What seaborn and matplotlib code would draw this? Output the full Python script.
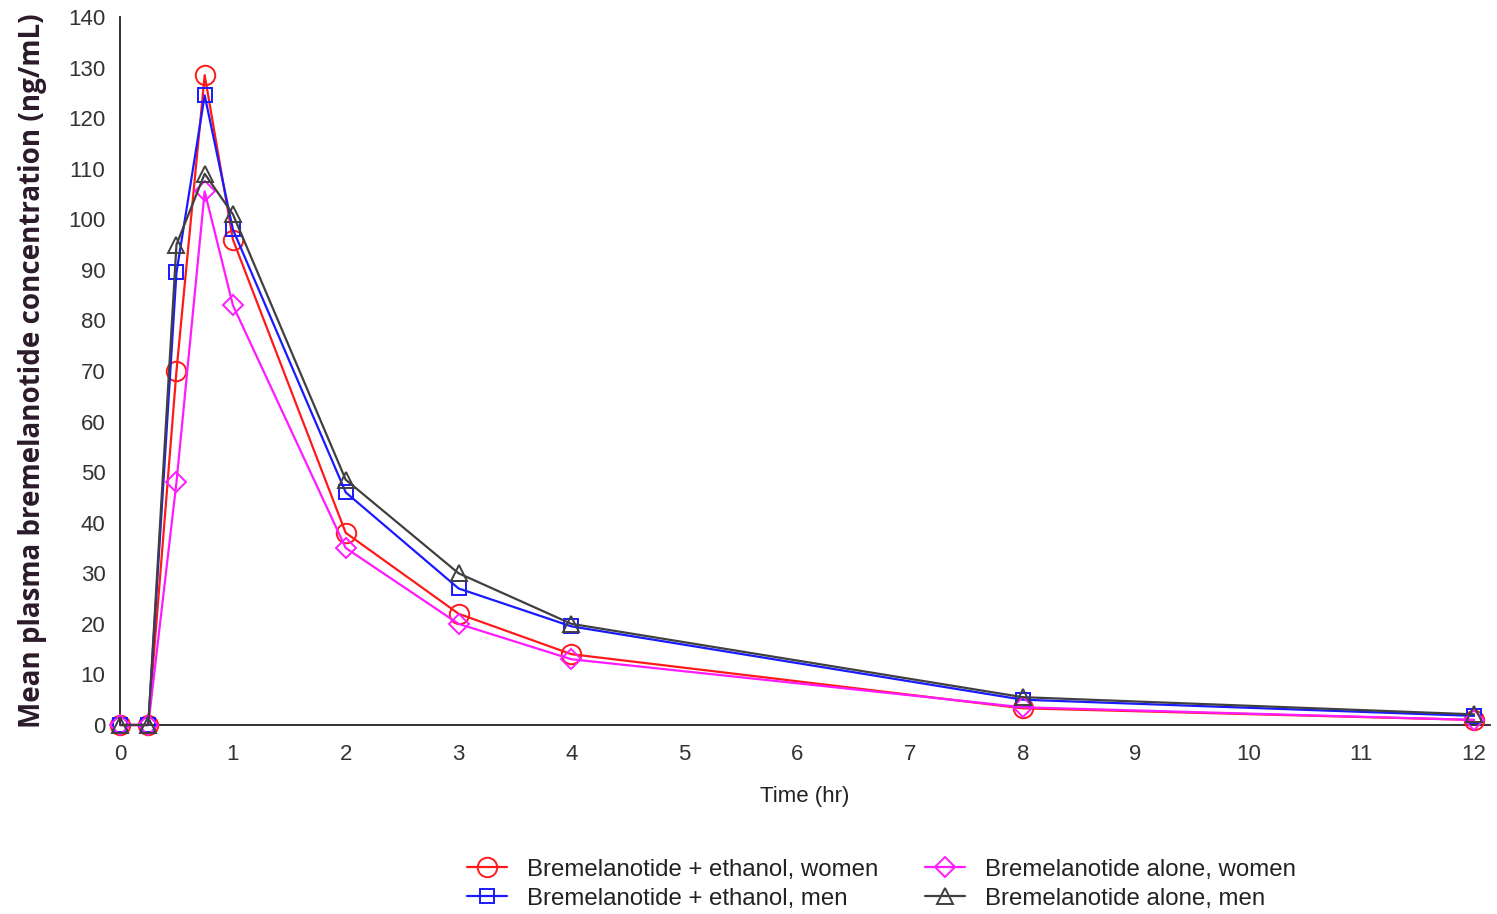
import matplotlib
matplotlib.use("Agg")
import matplotlib.pyplot as plt
import seaborn as sns
import pandas as pd

time_hr = [0, 0.25, 0.5, 0.75, 1, 2, 3, 4, 8, 12]
eth_women = [0, 0, 70, 128.5, 96, 38, 22, 14, 3.3, 1.0]
eth_men = [0, 0, 89.5, 124.5, 98, 46, 27, 19.5, 5.0, 1.8]
alone_women = [0, 0, 48, 105.5, 83, 35, 20, 13, 3.5, 1.0]
alone_men = [0, 0, 95, 109, 101, 48.5, 30, 20, 5.5, 2.1]

labels = ["Bremelanotide + ethanol, women", "Bremelanotide + ethanol, men",
          "Bremelanotide alone, women", "Bremelanotide alone, men"]
series = [eth_women, eth_men, alone_women, alone_men]
colors = ["#FF1A1A", "#1A1AFF", "#FF1AFF", "#404040"]
markers = ["o", "s", "D", "^"]
msizes = [14, 10, 10.5, 11.5]

sns.set_theme(style="white")
plt.rcParams["font.family"] = ["Liberation Sans", "DejaVu Sans"]

fig = plt.figure(figsize=(14.97, 9.14), dpi=100)
ax = fig.add_axes([0.0802, 0.2068, 0.9150, 0.7746])

for lab, vals, c, m, ms in zip(labels, series, colors, markers, msizes):
    df = pd.DataFrame({"t": time_hr, "v": vals})
    sns.lineplot(data=df, x="t", y="v", ax=ax, color=c, marker=m, markersize=ms,
                 markerfacecolor="none", markeredgecolor=c, markeredgewidth=1.4,
                 linewidth=1.6, label=lab, clip_on=False, zorder=3)

ax.set_xlim(0, 12.14)
ax.set_ylim(0, 140)
ax.set_xticks(range(0, 13))
ax.set_yticks(range(0, 141, 10))
for s in ["top", "right"]:
    ax.spines[s].set_visible(False)
for s in ["left", "bottom"]:
    ax.spines[s].set_color("#222222")
    ax.spines[s].set_linewidth(1.3)
ax.tick_params(axis="both", direction="inout", length=11, width=1.2, color="#222222",
               labelsize=16, labelcolor="#333333", pad=5)
ax.tick_params(axis="x", pad=8)

ax.set_xlabel("Time (hr)", fontsize=16, color="#222222", labelpad=15)
ax.set_ylabel("Mean plasma bremelanotide concentration (ng/mL)", fontsize=20,
              fontweight="bold", color="#2a1a2a", family=["Open Sans", "DejaVu Sans"],
              labelpad=15)

h, l = ax.get_legend_handles_labels()
ax.legend(h, l, ncol=2, loc="lower center", bbox_to_anchor=(0.589, -0.019),
          bbox_transform=fig.transFigure, frameon=False, fontsize=17.3,
          handlelength=1.67, handletextpad=0.83, columnspacing=1.95, labelspacing=0.3,
          labelcolor="#222222")

fig.savefig("out.png", dpi=100, facecolor="white")
